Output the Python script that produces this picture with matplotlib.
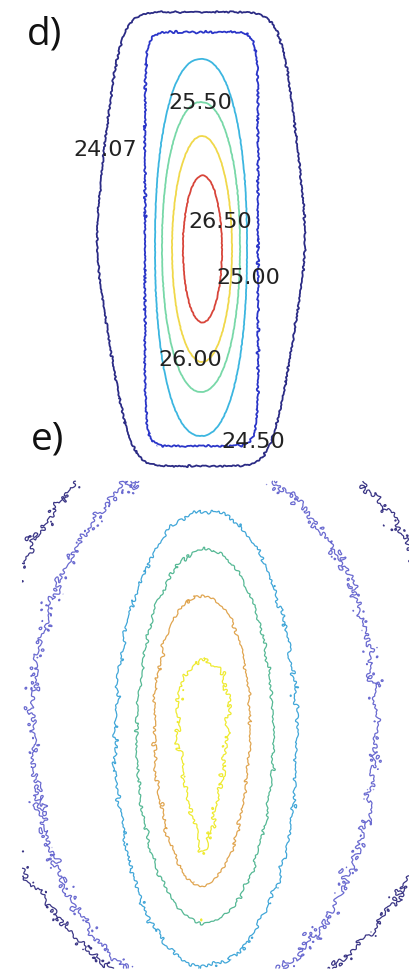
import numpy as np
import matplotlib.pyplot as plt

# panel d) - smooth contours, labelled
d_levels = [24.07, 24.50, 25.00, 25.50, 26.00, 26.50]
d_colors = ['#2b2b85', '#2a35c8', '#3cb6e0', '#78d8a8', '#f0d84a', '#d8453a']
d_cx = [201, 201.5, 201, 201, 202, 202.5]      # centre of each level (px)
d_cy = [240, 240, 248.5, 248, 250, 250]
d_half_w = [104, 56.5, 46, 39, 30, 19.5]
d_half_h = [227, 207, 188.5, 145, 113, 73.5]
d_power = [8, 10, 2.2, 2.1, 2.0, 2.0]
d_taper_up = [0.126, 0, 0, 0, 0, 0]
d_taper_down = [0.176, 0, 0, 0, 0, 0]
d_rough = [0.45, 0.55, 0.1, 0.1, 0.1, 0.15]
d_label_pos = [(105, 150), (253, 442), (248, 278), (200, 103), (190, 360), (220, 222)]

# panel e) - noisy contours, no labels
e_colors = ['#3a3585', '#6a6ad0', '#40a6d8', '#55b894', '#e0a550', '#eeea30']
e_cx = [220, 204, 206, 205, 202, 203]
e_cy = [725, 725, 740, 737, 742, 757]
e_half_w = [255, 172, 91, 68, 48, 22]
e_half_h_up = [350, 265, 228, 187, 145, 95]
e_half_h_down = [310, 275, 228, 187, 145, 95]
e_power = [1.5, 2.0, 2.0, 2.0, 2.0, 2.0]
e_skew = [0, 0, 0, 0, 0.1, 0.6]
e_rough = [2.3, 2.5, 1.0, 0.8, 0.8, 1.3]


def texture(X, Y, lam_min, lam_max, n, shift):
    # deterministic rough texture made from a fan of cosine waves
    out = np.zeros_like(X)
    lams = np.geomspace(lam_min, lam_max, n)
    g = (np.sqrt(5) - 1) / 2
    for k, lam in enumerate(lams):
        ang = np.pi * ((k * g + shift) % 1.0)
        ph = 2 * np.pi * ((k * 0.7548776662 + shift * 3.1) % 1.0)
        out += np.cos(2 * np.pi / lam * (X * np.cos(ang) + Y * np.sin(ang)) + ph)
    return out * np.sqrt(2.0 / n)


def signed_dist(X, Y, cx, cy, a, b_up, b_down, p, t_up=0.0, t_down=0.0, skew=0.0):
    dx = X - cx
    dy = Y - cy
    b = np.where(dy < 0, b_up, b_down)
    soft = np.sqrt(dy ** 2 + 40.0 ** 2) - 40.0
    taper = np.where(dy < 0, t_up, t_down) * soft
    a_eff = np.maximum(a - taper, 1.0) * np.maximum(1 - skew * dy / b, 0.1)
    r = (np.abs(dx / a_eff) ** p + np.abs(dy / b) ** p) ** (1.0 / p)
    gy, gx = np.gradient(r, Y[:, 0], X[0, :])
    return (r - 1) / np.maximum(np.hypot(gx, gy), 1e-6)


fig = plt.figure(figsize=(4.1, 9.7), dpi=100)
ax = fig.add_axes([0, 0, 1, 1])
ax.set_xlim(0, 410)
ax.set_ylim(970, 0)
ax.axis('off')

# panel d
xd = np.arange(60, 345, 0.5)
yd = np.arange(0, 482, 0.5)
Xd, Yd = np.meshgrid(xd, yd)
nd = texture(Xd, Yd, 3, 8, 24, 0.13)
for i in range(len(d_levels)):
    D = signed_dist(Xd, Yd, d_cx[i], d_cy[i], d_half_w[i], d_half_h[i], d_half_h[i],
                    d_power[i], d_taper_up[i], d_taper_down[i])
    ax.contour(Xd, Yd, D + d_rough[i] * nd, levels=[0], colors=[d_colors[i]], linewidths=1.3)
for lev, (lx, ly) in zip(d_levels, d_label_pos):
    ax.text(lx, ly, f'{lev:.2f}', ha='center', va='center', fontsize=16, color='#222222')

# panel e
xe = np.arange(22, 410, 0.5)
ye = np.arange(482, 970, 0.5)
Xe, Ye = np.meshgrid(xe, ye)
ne = texture(Xe, Ye, 4, 10, 30, 0.37) + 0.9 * texture(Xe, Ye, 15, 45, 16, 0.71)
for i in range(len(e_colors)):
    D = signed_dist(Xe, Ye, e_cx[i], e_cy[i], e_half_w[i], e_half_h_up[i], e_half_h_down[i],
                    e_power[i], skew=e_skew[i])
    ax.contour(Xe, Ye, D + e_rough[i] * ne, levels=[0], colors=[e_colors[i]], linewidths=0.9)

ax.text(27, 45, 'd)', fontsize=28, family='Open Sans', va='baseline', color='#111111')
ax.text(31, 450, 'e)', fontsize=28, family='Open Sans', va='baseline', color='#111111')

fig.savefig('out.png', dpi=100)
